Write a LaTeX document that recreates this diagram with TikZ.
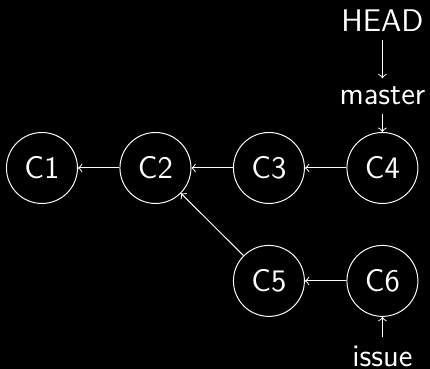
\documentclass[tikz,border=0pt]{standalone}
\begin{document}
\begin{tikzpicture}[white, font=\sffamily\fontsize{12.8}{15}\selectfont,
    commit/.style={draw, circle, minimum size=1.02cm, inner sep=0pt}]
    \fill[black] (0,0) rectangle (6.18,-5.30);
    \useasboundingbox (0,0) rectangle (6.18,-5.30);
    \node[commit] (c1) at (0.603,-2.414) {C1};
    \node[commit] (c2) at (2.234,-2.414) {C2};
    \node[commit] (c3) at (3.865,-2.414) {C3};
    \node[commit] (c4) at (5.496,-2.414) {C4};
    \node[commit] (c5) at (3.865,-4.037) {C5};
    \node[commit] (c6) at (5.496,-4.037) {C6};
    \node (head) at (5.496,-0.295) {HEAD};
    \node (master) at (5.496,-1.38) {master};
    \node (issue) at (5.496,-5.12) {issue};
    \draw[->] (c2) -- (c1);
    \draw[->] (c3) -- (c2);
    \draw[->] (c4) -- (c3);
    \draw[->] (c5) -- (c2);
    \draw[->] (c6) -- (c5);
    \draw[->] (head) -- (master);
    \draw[->] (master) -- (c4);
    \draw[->] (issue) -- (c6);
\end{tikzpicture}
\end{document}
